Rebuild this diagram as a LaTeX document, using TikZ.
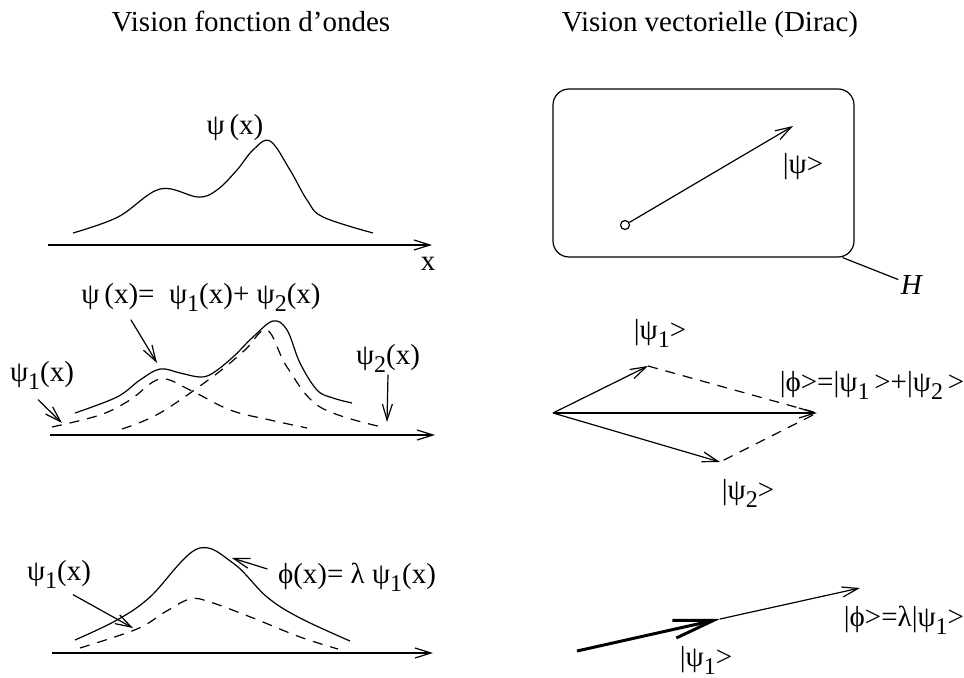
\documentclass[tikz,border=0pt,12pt]{standalone}
\usepackage{fontspec}
\setmainfont{Liberation Serif}
\usetikzlibrary{arrows.meta}
\newcommand{\idx}[1]{\raisebox{-0.6ex}{\fontsize{12}{13}\selectfont #1}}

\begin{document}
\begin{tikzpicture}[x=0.5pt, y=-0.5pt, line width=0.6pt,
    >={Straight Barb[length=8pt,width=5pt]},
    every node/.style={inner sep=1pt, font=\fontsize{14.5}{17}\selectfont},
    tiret/.style={dash pattern=on 5pt off 4pt},
    grosvec/.style={line width=1.5pt, -{Straight Barb[length=20pt,width=9pt]}}]
    \useasboundingbox (0,0) rectangle (964,678);

    % titres
    \node[anchor=base] (titre1) at (251,32) {Vision fonction d'ondes};
    \node[anchor=base] (titre2) at (710,32) {Vision vectorielle (Dirac)};

    % fonction d'onde
    \draw[->] (48,245) -- (432,245);
    \node (xlab) at (428,264) {x};
    \draw plot[smooth, tension=0.6] coordinates {(73,233) (118,217) (160,189) (198,197)
        (217,190) (237,170) (253,150) (270,141) (290,170) (307,200) (323,217) (373,233)};
    \node (psi) at (235,128) {ψ\,(x)};

    % superposition
    \draw[->] (50,435) -- (435,435);
    \draw plot[smooth, tension=0.6] coordinates {(75,413) (117,397) (140,380) (160,369)
        (180,373) (200,377) (213,373) (233,357) (253,337) (273,321) (287,330) (300,363)
        (317,390) (333,398) (352,403)};
    \draw[tiret] plot[smooth, tension=0.6] coordinates {(52,427) (100,415) (130,400)
        (160,379) (190,390) (230,410) (270,420) (307,428)};
    \draw[tiret] plot[smooth, tension=0.6] coordinates {(122,429) (160,413) (215,375)
        (245,350) (267,330) (287,367) (320,407) (382,427)};
    \node (somme) at (201,297) {ψ\,(x)=\ \ ψ\idx{1}(x)+\ ψ\idx{2}(x)};
    \node (psiun) at (42,375) {ψ\idx{1}(x)};
    \node (psideux) at (388,358) {ψ\idx{2}(x)};
    \coordinate (bosse) at (157,363);
    \coordinate (bord1) at (62,423);
    \coordinate (bord2) at (387,422);
    \draw[->] ([xshift=26pt,yshift=-3pt]somme.south west) -- (bosse);
    \draw[->] ([xshift=-2pt,yshift=-4pt]psiun.south) -- (bord1);
    \draw[->] (psideux.south) -- (bord2);

    % multiplication
    \draw[->] (52,653) -- (433,653);
    \draw plot[smooth, tension=0.6] coordinates {(75,640) (117,620) (150,597) (197,549)
        (233,563) (267,597) (300,618) (350,641)};
    \draw[tiret] plot[smooth, tension=0.6] coordinates {(80,648) (137,629) (165,612)
        (190,599) (210,602) (253,618) (300,637) (338,649)};
    \node (psiunb) at (59,574) {ψ\idx{1}(x)};
    \node (phi) at (357,577) {ϕ(x)=\ λ\ ψ\idx{1}(x)};
    \coordinate (creux) at (133,628);
    \coordinate (sommet) at (232,558);
    \draw[->] ([xshift=7pt,yshift=-2pt]psiunb.south) -- (creux);
    \draw[->] ([xshift=-4pt,yshift=4pt]phi.west) -- (sommet);

    % espace de Hilbert
    \node[draw, rounded corners=8pt, minimum width=150.5pt, minimum height=84pt] (hilbert) at (703.5,173) {};
    \node[circle, draw, inner sep=0pt, minimum size=4.5pt] (orig) at (625,225) {};
    \coordinate (bout) at (793,126);
    \draw[->] (orig) -- (bout);
    \node (ket) at (803,167) {|ψ>};
    \node (H) at (912,285) {\textit{H}};
    \draw ([xshift=-6pt]hilbert.south east) -- (H);

    % somme de vecteurs
    \coordinate (O) at (553,413);
    \coordinate (A) at (648,366);
    \coordinate (B) at (720,462);
    \coordinate (S) at (817,413);
    \draw[->] (O) -- (A);
    \draw[->] (O) -- (B);
    \draw[->] (O) -- (S);
    \draw[tiret] (A) -- (S) -- (B);
    \node (ketun) at (660,333) {|ψ\idx{1}>};
    \node (ketdeux) at (748,493) {|ψ\idx{2}>};
    \node (ketsomme) at (872,385) {|ϕ>=|ψ\idx{1}\,>+|ψ\idx{2}\,>};

    % multiplication par un scalaire
    \coordinate (P) at (577,651);
    \coordinate (Q) at (720,619);
    \coordinate (R) at (860,588);
    \draw[grosvec] (P) -- (Q);
    \draw[->] (Q) -- (R);
    \node (ketlam) at (904,620) {|ϕ>=λ|ψ\idx{1}>};
    \node (ketunb) at (706,660) {|ψ\idx{1}>};
\end{tikzpicture}
\end{document}
